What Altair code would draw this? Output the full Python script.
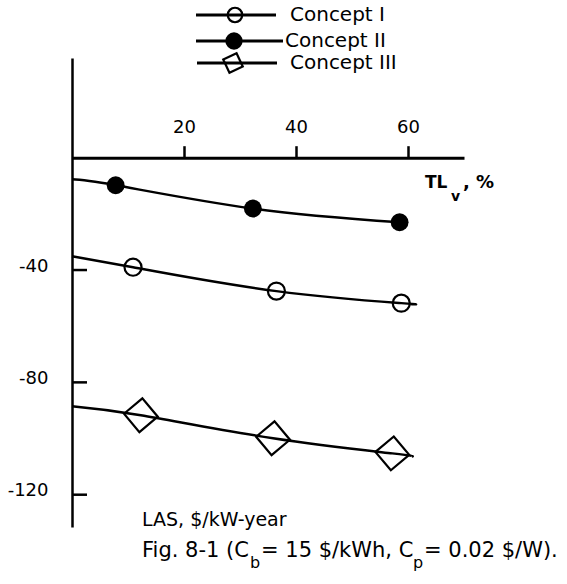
import altair as alt
import pandas as pd

FONT = "DejaVu Sans"

# ---- data (TL_v in %, LAS in $/kW-year) ----
concepts = ["Concept I", "Concept II", "Concept III"]

c1_curve_x = [0, 10.9, 36.5, 58.8, 60.3]
c1_curve_y = [-35.1, -39.0, -47.5, -51.8, -52.1]
c2_curve_x = [0, 7.8, 32.3, 58.5]
c2_curve_y = [-7.7, -9.8, -18.1, -23.0]
c3_curve_x = [0, 12.3, 35.9, 57.2, 60.7]
c3_curve_y = [-88.5, -91.7, -99.9, -105.3, -106.4]

c1_pts_x = [10.9, 36.5, 58.8]
c1_pts_y = [-39.0, -47.5, -51.8]
c2_pts_x = [7.8, 32.3, 58.5]
c2_pts_y = [-9.8, -18.1, -23.0]
c3_pts_x = [12.3, 35.9, 57.2]
c3_pts_y = [-91.7, -99.9, -105.3]

x_ticks = [20, 40, 60]
y_ticks = [-40, -80, -120]
x_domain = [0, 70]
y_domain = [-131.5, 35.5]

# ---- layout ----
W, H = 392, 469
PL, PT = 72, 58
PR, PB = 567 - PL - W, 584 - PT - H

def rel(px, py):
    return px - PL, py - PT

curves = pd.concat([
    pd.DataFrame({"x": c1_curve_x, "y": c1_curve_y, "concept": concepts[0]}),
    pd.DataFrame({"x": c2_curve_x, "y": c2_curve_y, "concept": concepts[1]}),
    pd.DataFrame({"x": c3_curve_x, "y": c3_curve_y, "concept": concepts[2]}),
])

xs = alt.Scale(domain=x_domain, nice=False, zero=False)
ys = alt.Scale(domain=y_domain, nice=False, zero=False)
x_offset = -H * y_domain[1] / (y_domain[1] - y_domain[0])

x_axis = alt.Axis(orient="top", offset=x_offset, values=x_ticks, grid=False,
                  domainColor="black", domainWidth=3, tickColor="black",
                  tickWidth=2.5, tickSize=12, labelFont=FONT, labelFontSize=18,
                  labelColor="black", labelPadding=9, title=None)
y_axis = alt.Axis(orient="left", values=y_ticks, grid=False, ticks=False,
                  domainColor="black", domainWidth=2.5, labelFont=FONT,
                  labelFontSize=18, labelColor="black", labelPadding=24,
                  labelOffset=-4, title=None,
                  labelExpr="'-' + format(abs(datum.value), 'd')")

def X(field):
    return alt.X(field, scale=xs, axis=x_axis)

def Y(field):
    return alt.Y(field, scale=ys, axis=y_axis)

lines = alt.Chart(curves).mark_line(
    interpolate="natural", color="black", strokeWidth=2.4
).encode(x=X("x:Q"), y=Y("y:Q"), detail="concept:N")

def pts(xv, yv, shape, filled, size, angle=0):
    df = pd.DataFrame({"x": xv, "y": yv})
    return alt.Chart(df).mark_point(
        shape=shape, filled=filled, size=size, color="black",
        strokeWidth=2.2, opacity=1, angle=angle
    ).encode(x=X("x:Q"), y=Y("y:Q"))

p1 = pts(c1_pts_x, c1_pts_y, "circle", False, 290)
p2 = pts(c2_pts_x, c2_pts_y, "circle", True, 320)
p3 = pts(c3_pts_x, c3_pts_y, "diamond", False, 1150, 5)

yticks = alt.Chart(pd.DataFrame({"y": y_ticks})).mark_rule(
    color="black", strokeWidth=2.5
).encode(y=Y("y:Q"), x=alt.value(0), x2=alt.value(15))

def text(t, px, py, size, weight="normal", align="left"):
    rx, ry = rel(px, py)
    return alt.Chart(pd.DataFrame({"t": [t]})).mark_text(
        align=align, baseline="middle", font=FONT, fontSize=size,
        fontWeight=weight, color="black"
    ).encode(x=alt.value(rx), y=alt.value(ry), text="t:N")

def legend_row(label, shape, filled, size, angle, py, x1, x2, xm, xt):
    ry = py - PT
    d = pd.DataFrame({"t": [label]})
    r = alt.Chart(d).mark_rule(color="black", strokeWidth=3).encode(
        x=alt.value(x1 - PL), x2=alt.value(x2 - PL), y=alt.value(ry))
    m = alt.Chart(d).mark_point(
        shape=shape, filled=filled, size=size, color="black",
        strokeWidth=2.2, opacity=1, angle=angle
    ).encode(x=alt.value(xm - PL), y=alt.value(ry))
    t = text(label, xt, py, 20)
    return [r, m, t]

legend = (
    legend_row(concepts[0], "circle", False, 210, 0, 15, 196, 276, 235, 290)
    + legend_row(concepts[1], "circle", True, 300, 0, 41, 196, 283, 234, 285)
    + legend_row(concepts[2], "diamond", False, 430, 20, 63, 197, 277, 233, 290)
)

labels = [
    text("TL", 425, 183, 17, "bold"),
    text("v", 451, 197, 14, "bold"),
    text(", %", 463, 183, 18, "bold"),
    text("LAS, $/kW-year", 142, 520, 19),
    text("Fig. 8-1 (C", 142, 551, 21),
    text("b", 250, 563, 16),
    text("= 15 $/kWh, C", 261, 551, 21),
    text("p", 413, 563, 16),
    text("= 0.02 $/W).", 424, 551, 21),
]

chart = alt.layer(
    lines, p1, p2, p3, yticks, *legend, *labels
).properties(
    width=W, height=H,
    autosize=alt.AutoSizeParams(type="none"),
    padding={"left": PL, "top": PT, "right": PR, "bottom": PB},
).configure_view(stroke=None)

chart.save("out.html", embed_options={"renderer": "svg", "actions": False})
